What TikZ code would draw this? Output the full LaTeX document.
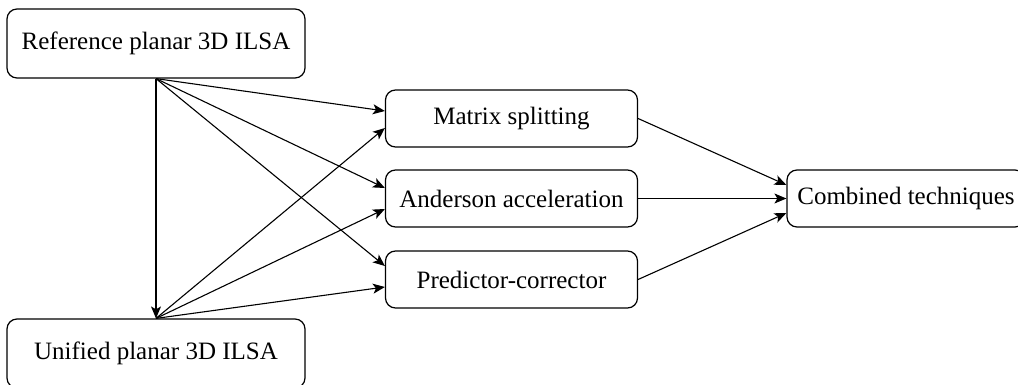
\documentclass[tikz,border=0pt]{standalone}
\usepackage{fontspec}
\setmainfont{Liberation Serif}
\usetikzlibrary{arrows.meta}
\begin{document}
\begin{tikzpicture}[x=1pt,y=-1pt,
  box/.style={draw,line width=1.2pt,rounded corners=10pt,inner sep=0pt,
    font=\fontsize{25}{30}\selectfont},
  bigbox/.style={box,minimum width=298pt,minimum height=69pt},
  midbox/.style={box,minimum width=252pt,minimum height=57pt},
  link/.style={line width=1.1pt,-{Stealth[length=12pt,width=10pt,inset=3pt]}}]
\useasboundingbox (0,0) rectangle (1018,385);

% source boxes
\node[bigbox] (ref) at (156,43.5) {Reference planar 3D ILSA};
\node[bigbox] (uni) at (156,353.5) {Unified planar 3D ILSA};

% technique boxes
\node[midbox] (ms) at (511.5,118.5) {Matrix splitting};
\node[midbox] (aa) at (511.5,198.5) {Anderson acceleration};
\node[midbox] (pc) at (511.5,279.5) {Predictor-corrector};

% result box
\node[box,minimum width=238pt,minimum height=57pt] (ct) at (906,198.5) {Combined techniques};

% from the reference solver
\draw[link] (ref.south) -- (uni.north);
\draw[link] (ref.south) -- ([yshift=7.5pt]ms.west);
\draw[link] (ref.south) -- ([yshift=10.5pt]aa.west);
\draw[link] (ref.south) -- ([yshift=13.5pt]pc.west);

% from the unified solver
\draw[link] (uni.north) -- ([yshift=-9.5pt]ms.west);
\draw[link] (uni.north) -- ([yshift=-10.5pt]aa.west);
\draw[link] (uni.north) -- ([yshift=-7.5pt]pc.west);

% into the combination
\draw[link] (ms.east) -- ([yshift=13.5pt]ct.west);
\draw[link] (aa.east) -- (ct.west);
\draw[link] (pc.east) -- ([yshift=-14.5pt]ct.west);
\end{tikzpicture}
\end{document}
